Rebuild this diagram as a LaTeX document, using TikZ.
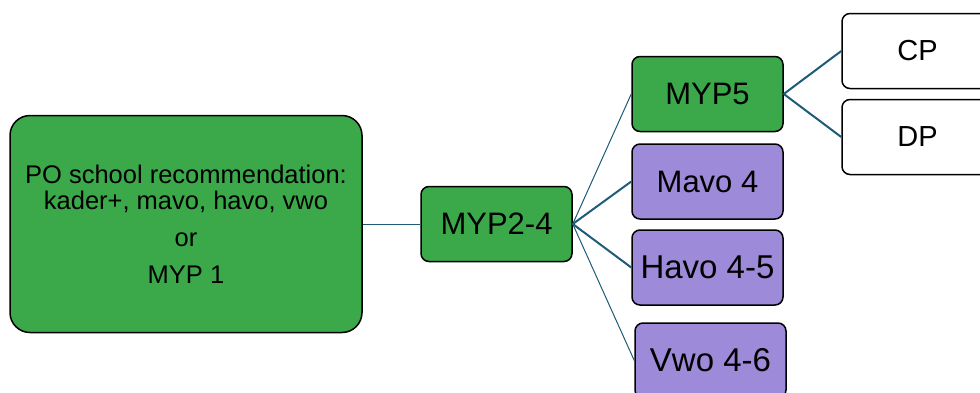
\documentclass[tikz,border=0pt]{standalone}
\usepackage{fontspec}
\setmainfont{Liberation Sans}
\definecolor{boxgreen}{RGB}{59,168,74}
\definecolor{boxpurple}{RGB}{157,138,216}
\definecolor{linkcol}{RGB}{30,92,122}
\begin{document}
\begin{tikzpicture}[x=1pt,y=-1pt,
  box/.style={draw=black, line width=1.5pt, rounded corners=8pt, minimum width=151pt, minimum height=75pt, inner sep=0pt, align=center, font=\fontsize{31}{33}\selectfont},
  greenbox/.style={box, fill=boxgreen},
  purplebox/.style={box, fill=boxpurple},
  whitebox/.style={box, fill=white, font=\fontsize{29}{31}\selectfont},
  thinlink/.style={draw=linkcol, line width=1pt},
  thicklink/.style={draw=linkcol, line width=2pt}]
\useasboundingbox (0,0) rectangle (980,392);
\clip (0,0) rectangle (980,392);
\fill[white] (0,0) rectangle (980,392);
\node[greenbox, rounded corners=20pt, minimum width=352pt, minimum height=217pt, font=\fontsize{25.5}{26}\selectfont] (po) at (186,224)
  {PO school recommendation:\\kader+, mavo, havo, vwo\\[11pt]or\\[11pt]MYP 1};
\node[greenbox] (myp24) at (496.5,224) {MYP2-4};
\node[greenbox] (myp5) at (707.5,94) {MYP5};
\node[purplebox] (mavo) at (707.5,181.5) {Mavo 4};
\node[purplebox, font=\fontsize{33}{35}\selectfont] (havo) at (707.5,267.5) {Havo 4-5};
\node[purplebox, font=\fontsize{33}{35}\selectfont] (vwo) at (710.5,360.5) {Vwo 4-6};
\node[whitebox] (cp) at (917.5,51) {CP};
\node[whitebox] (dp) at (917.5,137) {DP};
\draw[thinlink] (po.east) -- (myp24.west);
\draw[thinlink] (myp24.east) -- (myp5.west);
\draw[thicklink] (myp24.east) -- (mavo.west);
\draw[thicklink] (myp24.east) -- (havo.west);
\draw[thinlink] (myp24.east) -- (vwo.west);
\draw[thicklink] (myp5.east) -- (cp.west);
\draw[thicklink] (myp5.east) -- (dp.west);
\end{tikzpicture}
\end{document}
